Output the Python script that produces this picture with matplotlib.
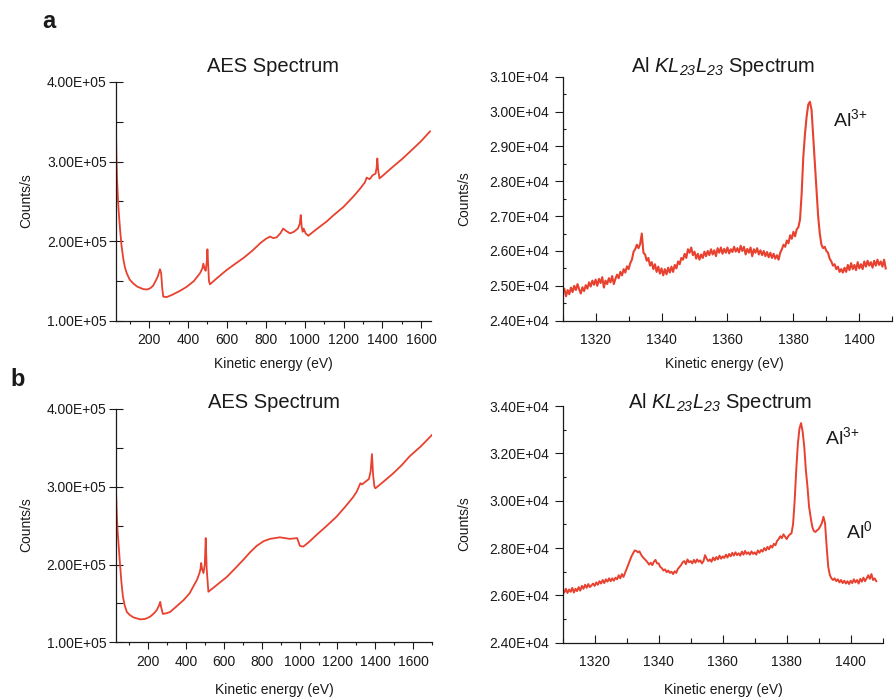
# AES 全谱与 Al KLL 谱 (a: 样品1, b: 样品2)

import matplotlib.pyplot as plt
import numpy as np
from matplotlib.ticker import MultipleLocator, FuncFormatter

plt.rcParams['font.family'] = ['Liberation Sans', 'DejaVu Sans']
plt.rcParams['mathtext.fontset'] = 'custom'
plt.rcParams['mathtext.rm'] = 'Liberation Sans'
plt.rcParams['mathtext.it'] = 'Liberation Sans:italic'
plt.rcParams['mathtext.bf'] = 'Liberation Sans:bold'
# 下标数字也要斜体, 借用 sf
plt.rcParams['mathtext.sf'] = 'Liberation Sans:italic'

# ---- a 全谱 (eV, 1e5 counts/s)
aes_a_energy = [30, 32, 35, 40, 45, 51, 58, 68, 76, 85, 100, 119, 140, 170, 190, 205, 220, 231,
                245, 256, 262, 268, 273, 291, 320, 360, 394, 430, 462, 474, 479, 485, 491, 497,
                500, 503, 508, 513, 550, 599, 650, 685, 730, 771, 800, 822, 839, 856, 875, 890,
                905, 925, 945, 965, 975, 980, 985, 990, 995, 1005, 1019, 1060, 1114, 1150, 1199,
                1250, 1285, 1310, 1319, 1334, 1350, 1365, 1370, 1374, 1378, 1385, 1400, 1456,
                1500, 1542, 1600, 1645]
aes_a_counts = [3.35, 3.05, 2.80, 2.52, 2.33, 2.14, 1.95, 1.77, 1.67, 1.60, 1.52, 1.47, 1.43, 1.40,
                1.395, 1.41, 1.44, 1.49, 1.56, 1.65, 1.60, 1.40, 1.305, 1.30, 1.33, 1.38, 1.43,
                1.50, 1.60, 1.66, 1.72, 1.66, 1.63, 1.75, 1.90, 1.75, 1.50, 1.46, 1.54, 1.64,
                1.73, 1.79, 1.88, 1.975, 2.03, 2.06, 2.04, 2.05, 2.10, 2.16, 2.13, 2.10, 2.12,
                2.16, 2.22, 2.33, 2.18, 2.12, 2.16, 2.10, 2.07, 2.15, 2.25, 2.33, 2.43, 2.56,
                2.66, 2.74, 2.80, 2.78, 2.83, 2.85, 2.92, 3.04, 2.90, 2.79, 2.82, 2.94, 3.03,
                3.125, 3.26, 3.38]

# ---- b 全谱
aes_b_energy = [30, 33, 37, 41, 45, 50, 54, 60, 68, 78, 89, 105, 124, 159, 185, 212, 235, 247, 258,
                265, 270, 279, 300, 317, 350, 387, 420, 440, 460, 472, 478, 481, 486, 493, 500,
                505, 510, 519, 560, 616, 660, 703, 740, 774, 810, 844, 896, 949, 987, 993, 1002,
                1019, 1050, 1089, 1140, 1195, 1240, 1282, 1300, 1321, 1330, 1345, 1366, 1375,
                1382, 1388, 1395, 1400, 1440, 1493, 1540, 1580, 1640, 1698]
aes_b_counts = [3.045, 2.85, 2.57, 2.40, 2.27, 2.10, 1.97, 1.78, 1.59, 1.47, 1.39, 1.35, 1.32,
                1.295, 1.30, 1.33, 1.38, 1.415, 1.47, 1.52, 1.45, 1.365, 1.375, 1.39, 1.46, 1.54,
                1.63, 1.72, 1.81, 1.89, 1.95, 2.02, 1.94, 1.89, 2.00, 2.34, 1.95, 1.65, 1.73,
                1.84, 1.95, 2.06, 2.16, 2.24, 2.30, 2.33, 2.35, 2.33, 2.34, 2.30, 2.24, 2.23,
                2.29, 2.38, 2.49, 2.615, 2.74, 2.865, 2.93, 3.045, 3.03, 3.06, 3.10, 3.20, 3.42,
                3.15, 3.00, 2.98, 3.06, 3.17, 3.28, 3.39, 3.52, 3.665]

# ---- Al KLL 谱, 1310 eV 起, 步长 0.5 eV (1e4 counts/s)
kll_start = 1310
kll_step = 0.5
kll_a_counts = [
    2.480, 2.492, 2.470, 2.488, 2.476, 2.495, 2.482, 2.500, 2.488, 2.505,
    2.490, 2.478, 2.496, 2.485, 2.502, 2.492, 2.510, 2.498, 2.515, 2.503,
    2.518, 2.500, 2.520, 2.508, 2.525, 2.495, 2.515, 2.505, 2.522, 2.510,
    2.528, 2.505, 2.520, 2.532, 2.522, 2.540, 2.530, 2.548, 2.538, 2.556,
    2.548, 2.565, 2.575, 2.598, 2.605, 2.618, 2.608, 2.620, 2.650, 2.595,
    2.590, 2.572, 2.580, 2.558, 2.568, 2.548, 2.562, 2.540, 2.555, 2.535,
    2.550, 2.530, 2.548, 2.533, 2.552, 2.538, 2.555, 2.540, 2.560, 2.550,
    2.570, 2.562, 2.580, 2.575, 2.592, 2.580, 2.605, 2.595, 2.610, 2.588,
    2.598, 2.578, 2.592, 2.575, 2.590, 2.580, 2.598, 2.585, 2.600, 2.588,
    2.605, 2.590, 2.602, 2.585, 2.608, 2.595, 2.610, 2.592, 2.606, 2.595,
    2.610, 2.593, 2.605, 2.597, 2.612, 2.598, 2.608, 2.596, 2.615, 2.600,
    2.612, 2.590, 2.606, 2.595, 2.610, 2.585, 2.605, 2.595, 2.608, 2.590,
    2.602, 2.588, 2.600, 2.585, 2.597, 2.582, 2.595, 2.580, 2.592, 2.578,
    2.588, 2.575, 2.595, 2.605, 2.618, 2.612, 2.630, 2.622, 2.645, 2.635,
    2.655, 2.642, 2.662, 2.668, 2.690, 2.765, 2.870, 2.935, 2.985, 3.020,
    3.028, 3.005, 2.930, 2.850, 2.780, 2.700, 2.650, 2.618, 2.608, 2.612,
    2.600, 2.595, 2.578, 2.570, 2.558, 2.562, 2.548, 2.555, 2.540, 2.548,
    2.538, 2.552, 2.540, 2.560, 2.545, 2.565, 2.548, 2.560, 2.545, 2.568,
    2.550, 2.562, 2.548, 2.570, 2.555, 2.572, 2.558, 2.568, 2.552, 2.572,
    2.558, 2.575, 2.560, 2.570, 2.555, 2.575, 2.550]
kll_b_counts = [
    2.630, 2.612, 2.628, 2.610, 2.625, 2.615, 2.632, 2.612, 2.628, 2.618,
    2.635, 2.620, 2.640, 2.628, 2.645, 2.632, 2.648, 2.635, 2.642, 2.650,
    2.640, 2.655, 2.645, 2.660, 2.650, 2.665, 2.652, 2.668, 2.658, 2.672,
    2.660, 2.672, 2.662, 2.675, 2.668, 2.685, 2.672, 2.690, 2.678, 2.695,
    2.712, 2.730, 2.748, 2.765, 2.778, 2.790, 2.788, 2.782, 2.786, 2.772,
    2.762, 2.755, 2.748, 2.740, 2.730, 2.738, 2.728, 2.742, 2.750, 2.735,
    2.735, 2.720, 2.715, 2.705, 2.710, 2.698, 2.705, 2.695, 2.700, 2.690,
    2.702, 2.695, 2.712, 2.720, 2.728, 2.740, 2.745, 2.732, 2.752, 2.740,
    2.745, 2.735, 2.750, 2.738, 2.752, 2.742, 2.748, 2.735, 2.745, 2.770,
    2.755, 2.745, 2.752, 2.742, 2.760, 2.748, 2.762, 2.752, 2.768, 2.755,
    2.765, 2.758, 2.772, 2.760, 2.775, 2.765, 2.780, 2.768, 2.782, 2.770,
    2.778, 2.768, 2.785, 2.772, 2.788, 2.775, 2.782, 2.772, 2.786, 2.775,
    2.782, 2.772, 2.790, 2.780, 2.792, 2.785, 2.800, 2.790, 2.805, 2.795,
    2.810, 2.802, 2.818, 2.812, 2.830, 2.838, 2.850, 2.842, 2.858, 2.848,
    2.838, 2.850, 2.858, 2.862, 2.900, 3.000, 3.130, 3.240, 3.305, 3.328,
    3.292, 3.228, 3.130, 3.060, 2.975, 2.930, 2.890, 2.872, 2.868, 2.875,
    2.880, 2.892, 2.905, 2.932, 2.905, 2.806, 2.720, 2.686, 2.672, 2.665,
    2.672, 2.660, 2.668, 2.655, 2.665, 2.652, 2.662, 2.650, 2.660, 2.648,
    2.662, 2.652, 2.668, 2.655, 2.665, 2.650, 2.670, 2.658, 2.675, 2.660,
    2.672, 2.685, 2.670, 2.690, 2.665, 2.672, 2.660]

W, H = 894, 699
RED = '#e8412f'
INK = '#1a1a1a'


def px(x, y):
    # 像素坐标 -> figure 坐标
    return x / W, 1 - y / H


def sci(v, pos):
    return '%.2E' % v


def style_survey(ax, xmax):
    ax.set_xlim(30, xmax)
    ax.set_ylim(1e5, 4e5)
    ax.xaxis.set_major_locator(MultipleLocator(200))
    ax.xaxis.set_minor_locator(MultipleLocator(100))
    ax.yaxis.set_major_locator(MultipleLocator(1e5))
    ax.yaxis.set_minor_locator(MultipleLocator(0.5e5))
    ax.yaxis.set_major_formatter(FuncFormatter(sci))
    ax.tick_params(axis='x', which='major', direction='out', length=5, width=0.8, pad=4, labelsize=10)
    ax.tick_params(axis='x', which='minor', direction='out', length=2.5, width=0.8)
    ax.tick_params(axis='y', which='major', direction='inout', length=10.5, width=0.8, pad=1.5, labelsize=10)
    ax.tick_params(axis='y', which='minor', direction='in', length=5, width=0.8)


def style_kll(ax, ymax, ymaj):
    ax.set_xlim(1310, 1410)
    ax.set_ylim(2.4e4, ymax)
    ax.xaxis.set_major_locator(MultipleLocator(20))
    ax.xaxis.set_minor_locator(MultipleLocator(10))
    ax.yaxis.set_major_locator(MultipleLocator(ymaj))
    ax.yaxis.set_minor_locator(MultipleLocator(ymaj / 2))
    ax.yaxis.set_major_formatter(FuncFormatter(sci))
    ax.tick_params(axis='x', which='major', direction='in', length=6, width=0.8, pad=9, labelsize=10)
    ax.tick_params(axis='x', which='minor', direction='in', length=3.5, width=0.8)
    ax.tick_params(axis='y', which='major', direction='out', length=5.5, width=0.8, pad=4.5, labelsize=10)
    ax.tick_params(axis='y', which='minor', direction='in', length=2.5, width=0.8)


def clean(ax):
    for s in ['top', 'right']:
        ax.spines[s].set_visible(False)
    for s in ['left', 'bottom']:
        ax.spines[s].set_linewidth(0.9)
        ax.spines[s].set_color(INK)
    ax.tick_params(which='both', colors=INK)


def main():
    fig = plt.figure(figsize=(W / 100, H / 100), dpi=100)

    ax1 = fig.add_axes([0.1298, 0.5408, 0.3523, 0.3419])
    ax2 = fig.add_axes([0.6294, 0.5412, 0.3687, 0.3491])
    ax3 = fig.add_axes([0.1294, 0.0811, 0.3541, 0.3338])
    ax4 = fig.add_axes([0.6294, 0.0805, 0.3579, 0.3386])

    ax1.plot(aes_a_energy, np.array(aes_a_counts) * 1e5, color=RED, lw=1.3)
    ax3.plot(aes_b_energy, np.array(aes_b_counts) * 1e5, color=RED, lw=1.3)

    xa = kll_start + kll_step * np.arange(len(kll_a_counts))
    xb = kll_start + kll_step * np.arange(len(kll_b_counts))
    ax2.plot(xa, np.array(kll_a_counts) * 1e4, color=RED, lw=1.5)
    ax4.plot(xb, np.array(kll_b_counts) * 1e4, color=RED, lw=1.4)

    style_survey(ax1, 1650)
    style_survey(ax3, 1700)
    style_kll(ax2, 3.1e4, 0.1e4)
    style_kll(ax4, 3.4e4, 0.2e4)
    for ax in [ax1, ax2, ax3, ax4]:
        clean(ax)
        ax.patch.set_alpha(0)

    # 标题
    kll_title = r'Al $\mathit{KL}_{\mathsf{23}}\mathit{L}_{\mathsf{23}}$ Spectrum'
    fig.text(*px(273, 72), 'AES Spectrum', ha='center', va='baseline', fontsize=14.5, color=INK)
    fig.text(*px(723, 72), kll_title, ha='center', va='baseline', fontsize=14.5, color=INK)
    fig.text(*px(274, 408), 'AES Spectrum', ha='center', va='baseline', fontsize=14.5, color=INK)
    fig.text(*px(720, 408), kll_title, ha='center', va='baseline', fontsize=14.5, color=INK)

    # 坐标轴名称
    for x, y in [(273, 364), (724, 364), (274, 690), (723, 690)]:
        fig.text(*px(x, y), 'Kinetic energy (eV)', ha='center', va='center', fontsize=10, color=INK)
    for x, y in [(26, 201), (464, 199), (26, 525), (464, 524)]:
        fig.text(*px(x, y), 'Counts/s', ha='center', va='center', rotation=90, fontsize=10, color=INK)

    # 峰标注
    fig.text(*px(833, 126), r'Al$^{3{+}}$', ha='left', va='baseline', fontsize=14, color=INK)
    fig.text(*px(825, 444), r'Al$^{3{+}}$', ha='left', va='baseline', fontsize=14, color=INK)
    fig.text(*px(846, 538), r'Al$^{0}$', ha='left', va='baseline', fontsize=14, color=INK)

    # 子图编号
    fig.text(*px(42, 28), 'a', ha='left', va='baseline', fontsize=17, fontweight='bold', color=INK)
    fig.text(*px(10, 386), 'b', ha='left', va='baseline', fontsize=17, fontweight='bold', color=INK)

    plt.savefig('out.png', dpi=100)


if __name__ == '__main__':
    main()
